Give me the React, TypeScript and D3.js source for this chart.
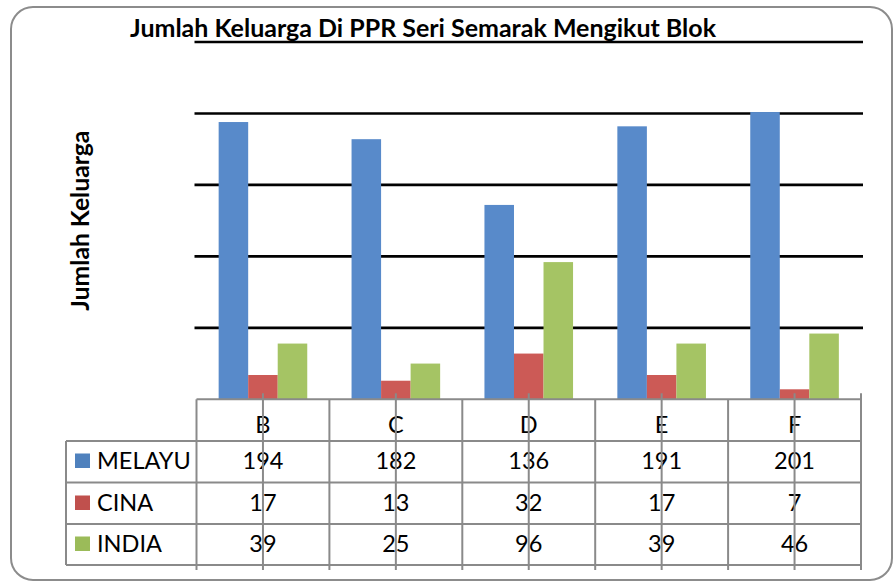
import React from "react";
import * as d3 from "d3";

const categories = ["B", "C", "D", "E", "F"];
const seriesNames = ["MELAYU", "CINA", "INDIA"];
const melayu = [194, 182, 136, 191, 201];
const cina = [17, 13, 32, 17, 7];
const india = [39, 25, 96, 39, 46];
const gridTicks = [50, 100, 150, 200, 250];
const chartTitle = "Jumlah Keluarga Di PPR Seri Semarak Mengikut Blok";
const yTitle = "Jumlah Keluarga";

const barColors = ["#588ACA", "#CC5A56", "#A5C464"];
const keyColors = ["#4F81BD", "#C0504D", "#9BBB59"];

const W = 894;
const H = 581;
const plotL = 196.5;
const plotR = 861;
const baseY = 399.3;
const topY = 42;
const tableL = 66;
const rowLines = [441, 482.5, 524, 565];
const rowBaselines = [469, 511, 552];
const headerBaseline = 433;
const lineBottom = 570;
const gridColor = "#000";
const tableColor = "#8a8a8a";
const FONT = "Lato, 'Open Sans', sans-serif";

export default function App() {
  const values = [melayu, cina, india];
  const x0 = d3.scaleBand<string>().domain(categories).range([plotL, plotR]);
  const x1 = d3
    .scaleBand<string>()
    .domain(seriesNames)
    .range([0, x0.bandwidth()])
    .paddingInner(0)
    .paddingOuter(0.75);
  const y = d3.scaleLinear().domain([0, 250]).range([baseY, topY]);

  const boundaries = categories.map((c) => x0(c) as number).concat([plotR]);

  return (
    <div style={{ position: "absolute", left: 0, top: 0 }}>
      <svg width={W} height={H} style={{ display: "block", background: "#fff" }}>
        <rect x={11} y={7} width={881} height={573} rx={22} ry={22} fill="#fff" stroke="#8c8c8c" strokeWidth={2} />

        {/* gridlines */}
        {gridTicks.map((t) => (
          <line key={t} x1={plotL - 2} x2={plotR + 2} y1={y(t)} y2={y(t)} stroke={gridColor} strokeWidth={2.6} />
        ))}

        {/* bars */}
        {categories.map((c, ci) =>
          seriesNames.map((s, si) => (
            <rect
              key={c + s}
              x={(x0(c) as number) + (x1(s) as number)}
              y={y(values[si][ci])}
              width={x1.bandwidth()}
              height={baseY - y(values[si][ci])}
              fill={barColors[si]}
            />
          ))
        )}

        {/* title */}
        <text x={423} y={37} textAnchor="middle" fontFamily={FONT} fontWeight="bold" fontSize={24} textLength={586} lengthAdjust="spacingAndGlyphs" fill="#000">
          {chartTitle}
        </text>

        {/* y axis title */}
        <text
          transform={`translate(89, ${(baseY + topY) / 2}) rotate(-90)`}
          textAnchor="middle"
          fontFamily={FONT}
          fontWeight="bold"
          fontSize={24}
          textLength={180}
          lengthAdjust="spacingAndGlyphs"
          fill="#000"
        >
          {yTitle}
        </text>

        {/* table texts */}
        {categories.map((c) => (
          <text key={"h" + c} x={(x0(c) as number) + x0.bandwidth() / 2} y={headerBaseline} textAnchor="middle" fontFamily={FONT} fontSize={23.5} fill="#000">
            {c}
          </text>
        ))}
        {seriesNames.map((s, si) => (
          <g key={"row" + s}>
            <rect x={75} y={rowBaselines[si] - 15.5} width={15} height={14.5} fill={keyColors[si]} />
            <text x={97} y={rowBaselines[si]} fontFamily={FONT} fontSize={23.5} fill="#000">
              {s}
            </text>
            {categories.map((c, ci) => (
              <text key={s + c} x={(x0(c) as number) + x0.bandwidth() / 2} y={rowBaselines[si]} textAnchor="middle" fontFamily={FONT} fontSize={23.5} fill="#000">
                {values[si][ci]}
              </text>
            ))}
          </g>
        ))}

        {/* table lines */}
        <line x1={plotL} x2={plotR} y1={baseY} y2={baseY} stroke={tableColor} strokeWidth={2} />
        {rowLines.map((ly) => (
          <line key={ly} x1={tableL} x2={plotR} y1={ly} y2={ly} stroke={tableColor} strokeWidth={2} />
        ))}
        <line x1={tableL} x2={tableL} y1={rowLines[0]} y2={rowLines[3]} stroke={tableColor} strokeWidth={2} />
        {boundaries.map((bx, i) => (
          <line key={"b" + i} x1={bx} x2={bx} y1={i === boundaries.length - 1 ? baseY - 6 : baseY} y2={lineBottom} stroke={tableColor} strokeWidth={2} />
        ))}
        {categories.map((c) => {
          const cx = (x0(c) as number) + x0.bandwidth() / 2;
          return <line key={"t" + c} x1={cx} x2={cx} y1={baseY - 6} y2={lineBottom} stroke={tableColor} strokeWidth={2} />;
        })}
      </svg>
    </div>
  );
}
